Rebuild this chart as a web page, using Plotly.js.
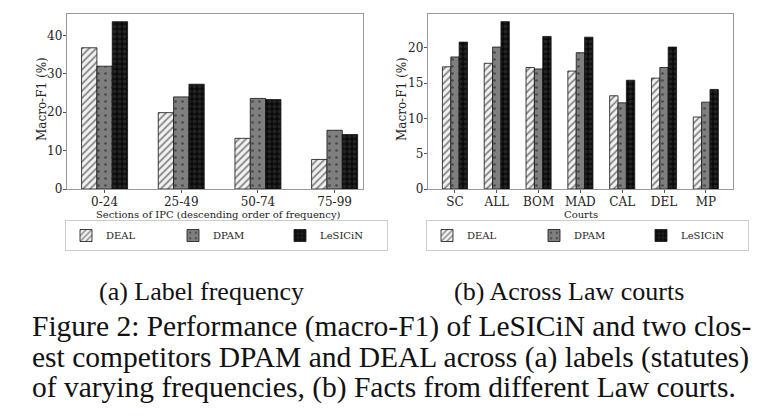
<!DOCTYPE html>
<html>
<head>
<meta charset="utf-8">
<script src="https://cdn.plot.ly/plotly-3.0.1.min.js"></script>
<style>html,body{margin:0;padding:0;background:#fff;overflow:hidden;}#chart{width:767px;height:418px;}</style>
</head>
<body>
<div id="chart"></div>
<script>
// Data
var ipcSections = ["0-24", "25-49", "50-74", "75-99"];
var ipcDEAL = [36.8, 19.9, 13.2, 7.7];
var ipcDPAM = [32.0, 24.0, 23.6, 15.3];
var ipcLeSICiN = [43.6, 27.3, 23.3, 14.2];

var courts = ["SC", "ALL", "BOM", "MAD", "CAL", "DEL", "MP"];
var courtDEAL = [17.3, 17.8, 17.2, 16.7, 13.2, 15.7, 10.2];
var courtDPAM = [18.7, 20.1, 17.0, 19.3, 12.2, 17.2, 12.3];
var courtLeSICiN = [20.8, 23.7, 21.6, 21.5, 15.4, 20.1, 14.1];

var leftXTitle = "Sections of IPC (descending order of frequency)";
var rightXTitle = "Courts";
var yTitle = "Macro-F1 (%)";

var styles = {
  "DEAL": {color: "#f2f2f2", pattern: {shape: "/", bgcolor: "#f2f2f2", fgcolor: "#1a1a1a", size: 5, solidity: 0.35, fillmode: "overlay"}},
  "DPAM": {color: "#7f7f7f", pattern: {shape: ".", bgcolor: "#7f7f7f", fgcolor: "#111", size: 7, solidity: 0.12, fillmode: "overlay"}},
  "LeSICiN": {color: "#0a0a0a", pattern: {shape: ".", bgcolor: "#0a0a0a", fgcolor: "#3a3a3a", size: 5, solidity: 0.5, fillmode: "overlay"}}
};

function mk(name, xs, ys, axis, legendId) {
  var s = styles[name];
  return {
    type: "bar", name: name, x: xs, y: ys,
    xaxis: axis[0], yaxis: axis[1], legend: legendId, showlegend: true,
    marker: {color: s.color, pattern: s.pattern, line: {color: "#111", width: 0.8}}
  };
}

var traces = [
  mk("DEAL", ipcSections, ipcDEAL, ["x", "y"], "legend"),
  mk("DPAM", ipcSections, ipcDPAM, ["x", "y"], "legend"),
  mk("LeSICiN", ipcSections, ipcLeSICiN, ["x", "y"], "legend"),
  mk("DEAL", courts, courtDEAL, ["x2", "y2"], "legend2"),
  mk("DPAM", courts, courtDPAM, ["x2", "y2"], "legend2"),
  mk("LeSICiN", courts, courtLeSICiN, ["x2", "y2"], "legend2")
];

var W = 767, H = 418;
function px(v) { return v / W; }
function py(v) { return 1 - v / H; }

var tickFont = {family: "DejaVu Serif", size: 12, color: "#222"};
var yTitleFont = {family: "DejaVu Serif", size: 12, color: "#222"};
var xTitleFont = {family: "DejaVu Serif", size: 10, color: "#222"};

var axisCommon = {
  showgrid: false, zeroline: false, showline: true, mirror: true,
  linecolor: "#999", linewidth: 1.2, ticks: "outside", ticklen: 3,
  tickcolor: "#555", tickfont: tickFont, automargin: false
};

function legendCfg(x0) {
  return {
    orientation: "h", x: px(x0), y: py(220), xanchor: "left", yanchor: "top",
    bordercolor: "#ccc", borderwidth: 1, bgcolor: "#fff",
    font: {family: "DejaVu Serif", size: 10, color: "#222"},
    entrywidth: 62, entrywidthmode: "pixels", tracegroupgap: 0
  };
}

var serifFamily = "Liberation Serif, Times New Roman, Times, serif";
var capFont = {family: serifFamily, size: 29.5, color: "#111"};
var subFont = {family: serifFamily, size: 26, color: "#111"};
function ann(text, x, y, xanchor, font, angle) {
  return {text: text, x: px(x), y: py(y), xref: "paper", yref: "paper", showarrow: false,
          xanchor: xanchor, yanchor: "middle", font: font, textangle: angle || 0};
}
var annotations = [
  ann(yTitle, 42, 99, "center", yTitleFont, -90),
  ann(yTitle, 402, 99, "center", yTitleFont, -90),
  ann(leftXTitle, 218, 214, "center", xTitleFont),
  ann(rightXTitle, 580.5, 214, "center", xTitleFont),
  ann("(a) Label frequency", 201.5, 291.5, "center", subFont),
  ann("(b) Across Law courts", 569, 291.5, "center", subFont),
  ann("Figure 2: Performance (macro-F1) of LeSICiN and two clos-", 30, 326, "left", capFont),
  ann("est competitors DPAM and DEAL across (a) labels (statutes)", 30, 357, "left", capFont),
  ann("of varying frequencies, (b) Facts from different Law courts.", 30, 387, "left", capFont)
];

var layout = {
  width: W, height: H,
  margin: {l: 0, r: 0, t: 0, b: 0, pad: 0},
  paper_bgcolor: "#fff", plot_bgcolor: "#fff",
  barmode: "group", bargap: 0.4, bargroupgap: 0,
  xaxis: Object.assign({}, axisCommon, {
    domain: [px(67), px(363)], anchor: "y", range: [-0.49, 3.37],
    ticklabelstandoff: -2
  }),
  yaxis: Object.assign({}, axisCommon, {
    domain: [py(189), py(14)], anchor: "x", range: [0, 45.6],
    tickvals: [0, 10, 20, 30, 40], ticklabelstandoff: -2
  }),
  xaxis2: Object.assign({}, axisCommon, {
    domain: [px(428), px(733)], anchor: "y2", range: [-0.645, 6.65],
    ticklabelstandoff: -2
  }),
  yaxis2: Object.assign({}, axisCommon, {
    domain: [py(189), py(14)], anchor: "x2", range: [0, 24.78],
    tickvals: [0, 5, 10, 15, 20], ticklabelstandoff: -2
  }),
  legend: legendCfg(65),
  legend2: legendCfg(426),
  annotations: annotations
};

Plotly.newPlot("chart", traces, layout, {displayModeBar: false, staticPlot: true});
</script>
</body>
</html>
